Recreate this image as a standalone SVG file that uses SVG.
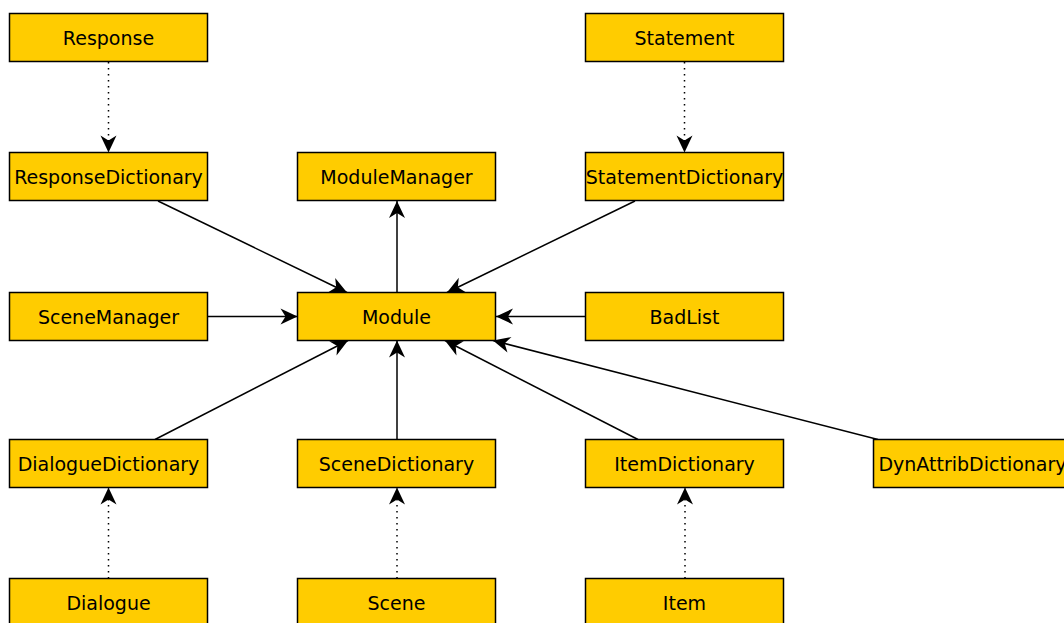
<svg xmlns="http://www.w3.org/2000/svg" width="1064" height="623" viewBox="0 0 1064 623">
<style>
.n rect{fill:#ffcc00;stroke:#000;stroke-width:1.5}
.n text{font-family:"DejaVu Sans","Liberation Sans",sans-serif;font-size:19px;text-anchor:middle;fill:#000}
.c line{stroke:#000;stroke-width:1.5;fill:none}
.c line.d{stroke-dasharray:1.5 4.5;stroke-width:1.5}
</style>
<defs>
<marker id="a" markerUnits="userSpaceOnUse" markerWidth="20" markerHeight="20" viewBox="-18 -9 20 18" refX="0" refY="0" orient="auto">
<path d="M0,0 L-17,-8 L-12,0 L-17,8 Z" fill="#000"/>
</marker>
</defs>
<rect width="1064" height="623" fill="#fff"/>
<g class="c" id="connectors">
<line class="d" x1="108.5" y1="62" x2="108.5" y2="152.5" marker-end="url(#a)"/>
<line class="d" x1="684.5" y1="62" x2="684.5" y2="152.5" marker-end="url(#a)"/>
<line x1="158" y1="201" x2="347" y2="292.5" marker-end="url(#a)"/>
<line x1="635" y1="201" x2="447" y2="292.5" marker-end="url(#a)"/>
<line x1="397" y1="292.5" x2="397" y2="201" marker-end="url(#a)"/>
<line x1="208" y1="316.5" x2="297.5" y2="316.5" marker-end="url(#a)"/>
<line x1="586" y1="316.5" x2="496" y2="316.5" marker-end="url(#a)"/>
<line x1="155" y1="439.5" x2="348" y2="340.5" marker-end="url(#a)"/>
<line x1="397" y1="439.5" x2="397" y2="340.5" marker-end="url(#a)"/>
<line x1="638" y1="439.5" x2="445" y2="340.5" marker-end="url(#a)"/>
<line x1="878" y1="439.5" x2="493" y2="340.5" marker-end="url(#a)"/>
<line class="d" x1="108.5" y1="578.5" x2="108.5" y2="487.5" marker-end="url(#a)"/>
<line class="d" x1="397" y1="578.5" x2="397" y2="487.5" marker-end="url(#a)"/>
<line class="d" x1="685" y1="578.5" x2="685" y2="487.5" marker-end="url(#a)"/>
</g>
<g class="n" id="Response"><rect x="9.5" y="13.5" width="198" height="48"/><text x="108.5" y="44.5">Response</text></g>
<g class="n" id="Statement"><rect x="585.5" y="13.5" width="198" height="48"/><text x="684.5" y="44.5">Statement</text></g>
<g class="n" id="ResponseDictionary"><rect x="9.5" y="152.5" width="198" height="48"/><text x="108.5" y="183.5">ResponseDictionary</text></g>
<g class="n" id="ModuleManager"><rect x="297.5" y="152.5" width="198" height="48"/><text x="396.5" y="183.5">ModuleManager</text></g>
<g class="n" id="StatementDictionary"><rect x="585.5" y="152.5" width="198" height="48"/><text x="684.5" y="183.5">StatementDictionary</text></g>
<g class="n" id="SceneManager"><rect x="9.5" y="292.5" width="198" height="48"/><text x="108.5" y="323.5">SceneManager</text></g>
<g class="n" id="Module"><rect x="297.5" y="292.5" width="198" height="48"/><text x="396.5" y="323.5">Module</text></g>
<g class="n" id="BadList"><rect x="585.5" y="292.5" width="198" height="48"/><text x="684.5" y="323.5">BadList</text></g>
<g class="n" id="DialogueDictionary"><rect x="9.5" y="439.5" width="198" height="48"/><text x="108.5" y="470.5">DialogueDictionary</text></g>
<g class="n" id="SceneDictionary"><rect x="297.5" y="439.5" width="198" height="48"/><text x="396.5" y="470.5">SceneDictionary</text></g>
<g class="n" id="ItemDictionary"><rect x="585.5" y="439.5" width="198" height="48"/><text x="684.5" y="470.5">ItemDictionary</text></g>
<g class="n" id="DynAttribDictionary"><rect x="873.5" y="439.5" width="198" height="48"/><text x="972.5" y="470.5">DynAttribDictionary</text></g>
<g class="n" id="Dialogue"><rect x="9.5" y="578.5" width="198" height="48"/><text x="108.5" y="609.5">Dialogue</text></g>
<g class="n" id="Scene"><rect x="297.5" y="578.5" width="198" height="48"/><text x="396.5" y="609.5">Scene</text></g>
<g class="n" id="Item"><rect x="585.5" y="578.5" width="198" height="48"/><text x="684.5" y="609.5">Item</text></g>
</svg>
